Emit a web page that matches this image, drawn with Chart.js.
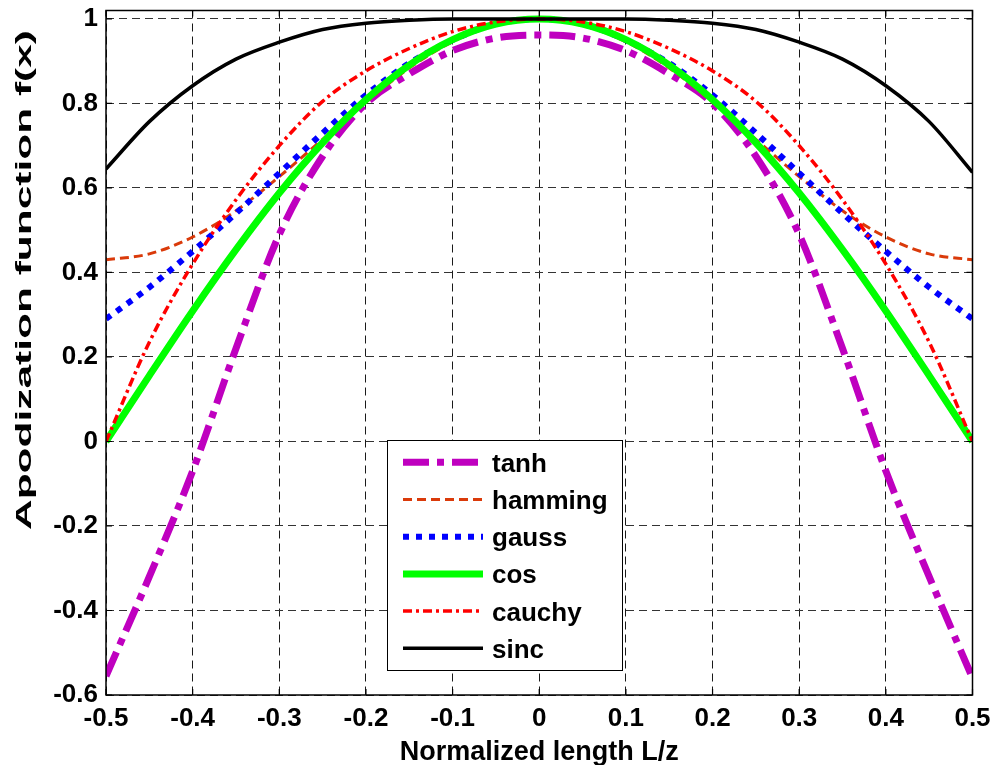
<!DOCTYPE html>
<html>
<head>
<meta charset="utf-8">
<script src="https://cdn.jsdelivr.net/npm/chart.js@4/dist/chart.umd.min.js"></script>
<style>
  html, body { margin: 0; padding: 0; background: #ffffff; }
  #wrap { width: 993px; height: 765px; }
</style>
</head>
<body>
<div id="wrap"><canvas id="plot" width="993" height="765"></canvas></div>
<script>
// Normalized position along the grating, L/z
const positions = [-0.5, -0.45, -0.4, -0.35, -0.3, -0.25, -0.2, -0.15, -0.1, -0.05, 0,
                   0.05, 0.1, 0.15, 0.2, 0.25, 0.3, 0.35, 0.4, 0.45, 0.5];

// Apodization profiles f(x)
const tanhProfile    = [-0.555, -0.32, -0.07, 0.22, 0.49, 0.675, 0.80, 0.87, 0.925, 0.955, 0.962,
                        0.955, 0.925, 0.87, 0.80, 0.675, 0.49, 0.22, -0.07, -0.32, -0.56];
const hammingProfile = [0.43, 0.444, 0.484, 0.546, 0.627, 0.715, 0.803, 0.884, 0.946, 0.986, 1.0,
                        0.986, 0.946, 0.884, 0.803, 0.715, 0.627, 0.546, 0.484, 0.444, 0.43];
const gaussProfile   = [0.29, 0.365, 0.45, 0.54, 0.635, 0.73, 0.82, 0.895, 0.95, 0.988, 1.0,
                        0.988, 0.95, 0.895, 0.82, 0.73, 0.635, 0.54, 0.45, 0.365, 0.29];
const cosProfile     = [0, 0.156, 0.309, 0.454, 0.588, 0.707, 0.809, 0.891, 0.951, 0.988, 1.0,
                        0.988, 0.951, 0.891, 0.809, 0.707, 0.588, 0.454, 0.309, 0.156, 0];
const cauchyProfile  = [0, 0.235, 0.42, 0.572, 0.70, 0.805, 0.877, 0.93, 0.97, 0.993, 1.0,
                        0.993, 0.97, 0.93, 0.877, 0.805, 0.70, 0.572, 0.42, 0.235, 0];
const sincProfile    = [0.645, 0.757, 0.842, 0.905, 0.945, 0.975, 0.99, 0.997, 1.0, 1.0, 1.0,
                        1.0, 1.0, 0.997, 0.99, 0.975, 0.945, 0.905, 0.842, 0.757, 0.637];

const seriesNames = ['tanh', 'hamming', 'gauss', 'cos', 'cauchy', 'sinc'];

// Axis ticks
const xTickValues = [-0.5, -0.4, -0.3, -0.2, -0.1, 0, 0.1, 0.2, 0.3, 0.4, 0.5];
const yTickValues = [-0.6, -0.4, -0.2, 0, 0.2, 0.4, 0.6, 0.8, 1];

const xTitle = 'Normalized length L/z';
const yTitle = 'Apodization function f(x)';

const FONT = '"Liberation Sans", Arial, Helvetica, sans-serif';

function pairs(values) {
  return positions.map((x, i) => ({ x: x, y: values[i] }));
}

function fmt(v) {
  const r = Math.round(v * 10) / 10;
  if (r === 0) return '0';
  if (Number.isInteger(r)) return String(r);
  return r.toFixed(1);
}

const styles = [
  { color: '#bf00bf', width: 7,   dash: [26, 8, 7, 8] },
  { color: '#da3a0a', width: 3,   dash: [9, 5] },
  { color: '#0000ff', width: 6,   dash: [6, 7] },
  { color: '#00ff00', width: 7,   dash: [] },
  { color: '#ff0000', width: 3.5, dash: [9, 4, 3, 4] },
  { color: '#000000', width: 3.5, dash: [] }
];
const profiles = [tanhProfile, hammingProfile, gaussProfile, cosProfile, cauchyProfile, sincProfile];

const datasets = profiles.map((vals, i) => ({
  label: seriesNames[i],
  data: pairs(vals),
  borderColor: styles[i].color,
  backgroundColor: styles[i].color,
  borderWidth: styles[i].width,
  borderDash: styles[i].dash,
  borderCapStyle: 'butt',
  pointRadius: 0,
  fill: false,
  cubicInterpolationMode: 'monotone',
  // later profiles sit on top of earlier ones
  order: profiles.length - i
}));

// Inset legend with white background, box frame, axis titles and inward tick marks
const decorations = {
  id: 'decorations',
  afterDatasetsDraw(chart) {
    const ctx = chart.ctx;
    ctx.save();
    const bx = 387, by = 440, bw = 236, bh = 231;
    ctx.fillStyle = '#ffffff';
    ctx.fillRect(bx, by, bw, bh);
    ctx.strokeStyle = '#000000';
    ctx.lineWidth = 1;
    ctx.setLineDash([]);
    ctx.strokeRect(bx + 0.5, by + 0.5, bw - 1, bh - 1);
    ctx.font = 'bold 26px ' + FONT;
    ctx.textAlign = 'left';
    ctx.textBaseline = 'alphabetic';
    chart.data.datasets.forEach((ds, i) => {
      const rowY = 462.3 + i * 37.2;
      ctx.beginPath();
      ctx.strokeStyle = ds.borderColor;
      ctx.lineWidth = ds.borderWidth;
      ctx.lineCap = 'butt';
      ctx.setLineDash(ds.borderDash || []);
      ctx.moveTo(403, rowY);
      ctx.lineTo(483, rowY);
      ctx.stroke();
      ctx.setLineDash([]);
      ctx.fillStyle = '#000000';
      ctx.fillText(ds.label, 492, rowY + 9.5);
    });
    ctx.restore();
  },
  afterDraw(chart) {
    const ctx = chart.ctx;
    const a = chart.chartArea;
    const xs = chart.scales.x, ys = chart.scales.y;
    ctx.save();
    ctx.setLineDash([]);
    ctx.strokeStyle = '#000000';
    ctx.lineWidth = 1.5;
    ctx.strokeRect(a.left, a.top, a.right - a.left, a.bottom - a.top);
    ctx.lineWidth = 1.2;
    const tl = 6;
    ctx.beginPath();
    xTickValues.forEach(v => {
      const px = xs.getPixelForValue(v);
      ctx.moveTo(px, a.bottom); ctx.lineTo(px, a.bottom - tl);
      ctx.moveTo(px, a.top); ctx.lineTo(px, a.top + tl);
    });
    yTickValues.forEach(v => {
      const py = ys.getPixelForValue(v);
      ctx.moveTo(a.left, py); ctx.lineTo(a.left + tl, py);
      ctx.moveTo(a.right, py); ctx.lineTo(a.right - tl, py);
    });
    ctx.stroke();

    // axis titles
    ctx.fillStyle = '#000000';
    ctx.font = 'bold 27px ' + FONT;
    ctx.textAlign = 'center';
    ctx.textBaseline = 'alphabetic';
    ctx.fillText(xTitle, (a.left + a.right) / 2, 760);

    ctx.font = 'bold 22px ' + FONT;
    const w = ctx.measureText(yTitle).width;
    ctx.translate(31, 280);
    ctx.rotate(-Math.PI / 2);
    ctx.scale(500 / w, 1);
    ctx.fillText(yTitle, 0, 0);
    ctx.restore();
  }
};

new Chart(document.getElementById('plot'), {
  type: 'line',
  data: { datasets: datasets },
  plugins: [decorations],
  options: {
    responsive: false,
    animation: false,
    devicePixelRatio: 1,
    layout: { padding: { top: 10.5, right: 20.5, left: 0, bottom: 0 } },
    plugins: { legend: { display: false }, tooltip: { enabled: false } },
    scales: {
      x: {
        type: 'linear',
        min: -0.5,
        max: 0.5,
        afterBuildTicks(s) { s.ticks = xTickValues.map(v => ({ value: v })); },
        afterFit(s) { s.height = 70; s.paddingLeft = 0; s.paddingRight = 0; },
        ticks: {
          callback: v => fmt(v),
          color: '#000000',
          font: { family: FONT, size: 26, weight: 'bold' },
          padding: 8,
          maxRotation: 0,
          autoSkip: false
        },
        grid: { color: '#1a1a1a', lineWidth: 1, drawTicks: false },
        border: { display: false, dash: [8, 5] }
      },
      y: {
        type: 'linear',
        min: -0.6,
        max: 1.02,
        afterBuildTicks(s) { s.ticks = yTickValues.map(v => ({ value: v })); },
        afterFit(s) { s.width = 106; s.paddingTop = 0; s.paddingBottom = 0; },
        ticks: {
          callback: v => fmt(v),
          color: '#000000',
          font: { family: FONT, size: 26, weight: 'bold' },
          padding: 8,
          autoSkip: false
        },
        grid: { color: '#333333', lineWidth: 1, drawTicks: false },
        border: { display: false, dash: [8, 5] }
      }
    }
  }
});
</script>
</body>
</html>
